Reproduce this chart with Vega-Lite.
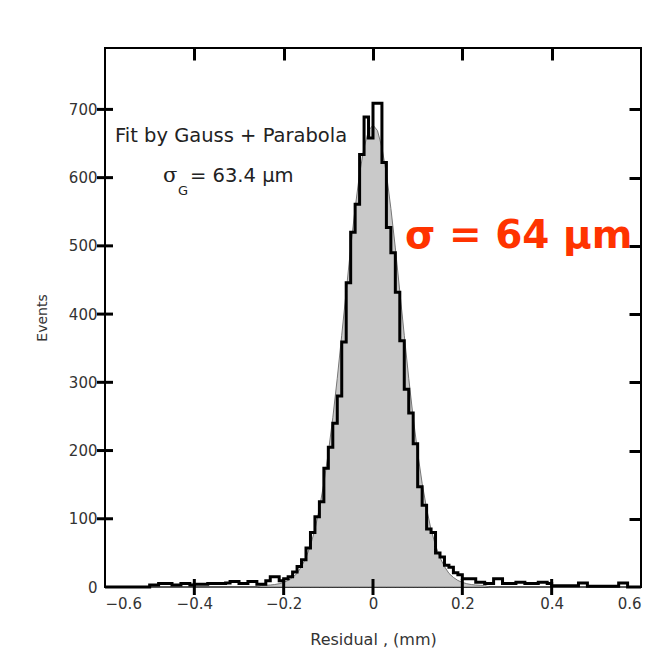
{
  "$schema": "https://vega.github.io/schema/vega-lite/v6.json",
  "autosize": "none",
  "width": 536,
  "height": 539,
  "padding": {"left": 105, "top": 48, "right": 5, "bottom": 67},
  "background": "#ffffff",
  "config": {
    "view": {"stroke": "#000000", "strokeWidth": 2},
    "font": "DejaVu Sans"
  },
  "datasets": {
    "hist": [
      {"x": -0.60, "n": 0}, {"x": -0.59, "n": 0}, {"x": -0.58, "n": 0}, {"x": -0.57, "n": 0}, {"x": -0.56, "n": 0},
      {"x": -0.55, "n": 0}, {"x": -0.54, "n": 0}, {"x": -0.53, "n": 0}, {"x": -0.52, "n": 0}, {"x": -0.51, "n": 0},
      {"x": -0.50, "n": 3}, {"x": -0.49, "n": 3}, {"x": -0.48, "n": 5}, {"x": -0.47, "n": 5}, {"x": -0.46, "n": 5},
      {"x": -0.45, "n": 3}, {"x": -0.44, "n": 3}, {"x": -0.43, "n": 5}, {"x": -0.42, "n": 5}, {"x": -0.41, "n": 3},
      {"x": -0.40, "n": 4}, {"x": -0.39, "n": 4}, {"x": -0.38, "n": 4}, {"x": -0.37, "n": 5}, {"x": -0.36, "n": 5},
      {"x": -0.35, "n": 5}, {"x": -0.34, "n": 5}, {"x": -0.33, "n": 6}, {"x": -0.32, "n": 8}, {"x": -0.31, "n": 8},
      {"x": -0.30, "n": 5}, {"x": -0.29, "n": 5}, {"x": -0.28, "n": 8}, {"x": -0.27, "n": 8}, {"x": -0.26, "n": 4},
      {"x": -0.25, "n": 4}, {"x": -0.24, "n": 9}, {"x": -0.23, "n": 15}, {"x": -0.22, "n": 15}, {"x": -0.21, "n": 9},
      {"x": -0.20, "n": 12}, {"x": -0.19, "n": 15}, {"x": -0.18, "n": 22}, {"x": -0.17, "n": 30}, {"x": -0.16, "n": 40},
      {"x": -0.15, "n": 57}, {"x": -0.14, "n": 80}, {"x": -0.13, "n": 103}, {"x": -0.12, "n": 125}, {"x": -0.11, "n": 174},
      {"x": -0.10, "n": 205}, {"x": -0.09, "n": 240}, {"x": -0.08, "n": 280}, {"x": -0.07, "n": 359}, {"x": -0.06, "n": 446},
      {"x": -0.05, "n": 520}, {"x": -0.04, "n": 561}, {"x": -0.03, "n": 634}, {"x": -0.02, "n": 689}, {"x": -0.01, "n": 658},
      {"x": 0.00, "n": 709}, {"x": 0.01, "n": 709}, {"x": 0.02, "n": 622}, {"x": 0.03, "n": 527}, {"x": 0.04, "n": 490},
      {"x": 0.05, "n": 432}, {"x": 0.06, "n": 361}, {"x": 0.07, "n": 290}, {"x": 0.08, "n": 255}, {"x": 0.09, "n": 210},
      {"x": 0.10, "n": 147}, {"x": 0.11, "n": 120}, {"x": 0.12, "n": 85}, {"x": 0.13, "n": 80}, {"x": 0.14, "n": 50},
      {"x": 0.15, "n": 44}, {"x": 0.16, "n": 32}, {"x": 0.17, "n": 29}, {"x": 0.18, "n": 21}, {"x": 0.19, "n": 18},
      {"x": 0.20, "n": 12}, {"x": 0.21, "n": 12}, {"x": 0.22, "n": 12}, {"x": 0.23, "n": 7}, {"x": 0.24, "n": 7},
      {"x": 0.25, "n": 5}, {"x": 0.26, "n": 5}, {"x": 0.27, "n": 12}, {"x": 0.28, "n": 12}, {"x": 0.29, "n": 5},
      {"x": 0.30, "n": 5}, {"x": 0.31, "n": 5}, {"x": 0.32, "n": 7}, {"x": 0.33, "n": 7}, {"x": 0.34, "n": 5},
      {"x": 0.35, "n": 5}, {"x": 0.36, "n": 5}, {"x": 0.37, "n": 7}, {"x": 0.38, "n": 7}, {"x": 0.39, "n": 5},
      {"x": 0.40, "n": 2}, {"x": 0.41, "n": 2}, {"x": 0.42, "n": 2}, {"x": 0.43, "n": 2}, {"x": 0.44, "n": 2},
      {"x": 0.45, "n": 2}, {"x": 0.46, "n": 6}, {"x": 0.47, "n": 6}, {"x": 0.48, "n": 1}, {"x": 0.49, "n": 1},
      {"x": 0.50, "n": 1}, {"x": 0.51, "n": 1}, {"x": 0.52, "n": 1}, {"x": 0.53, "n": 1}, {"x": 0.54, "n": 1},
      {"x": 0.55, "n": 6}, {"x": 0.56, "n": 6}, {"x": 0.57, "n": 0}, {"x": 0.58, "n": 0}, {"x": 0.59, "n": 0},
      {"x": 0.60, "n": 0}
    ],
    "fit": [
      {"x": -0.60, "f": 0}, {"x": -0.26, "f": 0}, {"x": -0.25, "f": 2.3}, {"x": -0.24, "f": 2.5}, {"x": -0.23, "f": 2.9}, {"x": -0.22, "f": 3.6},
      {"x": -0.21, "f": 4.8}, {"x": -0.20, "f": 6.7}, {"x": -0.19, "f": 9.6}, {"x": -0.18, "f": 14},
      {"x": -0.17, "f": 20}, {"x": -0.16, "f": 30}, {"x": -0.15, "f": 43}, {"x": -0.14, "f": 61},
      {"x": -0.13, "f": 84}, {"x": -0.12, "f": 115}, {"x": -0.11, "f": 152}, {"x": -0.10, "f": 197},
      {"x": -0.09, "f": 248}, {"x": -0.08, "f": 306}, {"x": -0.07, "f": 369}, {"x": -0.06, "f": 433},
      {"x": -0.05, "f": 497}, {"x": -0.04, "f": 555}, {"x": -0.03, "f": 606}, {"x": -0.02, "f": 644},
      {"x": -0.01, "f": 669}, {"x": 0.00, "f": 677}, {"x": 0.01, "f": 669}, {"x": 0.02, "f": 644},
      {"x": 0.03, "f": 606}, {"x": 0.04, "f": 555}, {"x": 0.05, "f": 497}, {"x": 0.06, "f": 433},
      {"x": 0.07, "f": 369}, {"x": 0.08, "f": 306}, {"x": 0.09, "f": 248}, {"x": 0.10, "f": 197},
      {"x": 0.11, "f": 152}, {"x": 0.12, "f": 115}, {"x": 0.13, "f": 84}, {"x": 0.14, "f": 61},
      {"x": 0.15, "f": 43}, {"x": 0.16, "f": 30}, {"x": 0.17, "f": 20}, {"x": 0.18, "f": 14},
      {"x": 0.19, "f": 9.6}, {"x": 0.20, "f": 6.7}, {"x": 0.21, "f": 4.8}, {"x": 0.22, "f": 3.6},
      {"x": 0.23, "f": 2.9}, {"x": 0.24, "f": 2.5}, {"x": 0.25, "f": 2.3}, {"x": 0.26, "f": 0}, {"x": 0.60, "f": 0}
    ],
    "yticks": [
      {"x": -0.6, "y": 100}, {"x": -0.6, "y": 200}, {"x": -0.6, "y": 300}, {"x": -0.6, "y": 400},
      {"x": -0.6, "y": 500}, {"x": -0.6, "y": 600}, {"x": -0.6, "y": 700}
    ],
    "xticks": [
      {"x": -0.4, "y": 0}, {"x": -0.2, "y": 0}, {"x": 0, "y": 0}, {"x": 0.2, "y": 0}, {"x": 0.4, "y": 0}
    ],
    "notes": [
      {"x": -0.5776, "y": 652, "label": "Fit by Gauss + Parabola", "kind": "fit"},
      {"x": -0.470, "y": 594, "label": "σ", "kind": "sigma"},
      {"x": -0.4365, "y": 574, "label": "G", "kind": "sub"},
      {"x": -0.4097, "y": 594, "label": "= 63.4 μm", "kind": "val"},
      {"x": 0.0716, "y": 497, "label": "σ = 64 μm", "kind": "red"}
    ]
  },
  "resolve": {"axis": {"x": "independent", "y": "independent"}},
  "layer": [
    {
      "data": {"name": "fit"},
      "mark": {"type": "area", "fill": "#c9c9c9", "stroke": "#777777", "strokeWidth": 1},
      "encoding": {
        "x": {"field": "x", "type": "quantitative",
          "scale": {"domain": [-0.6, 0.6], "nice": false, "zero": false}, "axis": null},
        "y": {"field": "f", "type": "quantitative",
          "scale": {"domain": [0, 790], "nice": false}, "axis": null}
      }
    },
    {
      "data": {"name": "hist"},
      "mark": {"type": "line", "interpolate": "step-after", "stroke": "#000000", "strokeWidth": 3, "strokeJoin": "miter"},
      "encoding": {
        "x": {"field": "x", "type": "quantitative",
          "axis": {"orient": "top", "values": [-0.4, -0.2, 0, 0.2, 0.4], "labels": false, "domain": false, "zindex": 2,
            "grid": false, "tickColor": "#000000", "tickWidth": 3, "tickSize": -12, "title": null}},
        "y": {"field": "n", "type": "quantitative",
          "axis": {"orient": "right", "values": [100, 200, 300, 400, 500, 600, 700], "labels": false, "domain": false, "zindex": 2,
            "grid": false, "tickColor": "#000000", "tickWidth": 3, "tickSize": -12, "title": null}}
      }
    },
    {
      "data": {"name": "yticks"},
      "mark": {"type": "tick", "orient": "horizontal", "size": 16, "thickness": 3, "color": "#000000", "opacity": 1},
      "encoding": {
        "x": {"field": "x", "type": "quantitative", "axis": null},
        "y": {"field": "y", "type": "quantitative", "axis": null}
      }
    },
    {
      "data": {"name": "xticks"},
      "mark": {"type": "tick", "orient": "vertical", "size": 16, "thickness": 3, "color": "#000000", "opacity": 1},
      "encoding": {
        "x": {"field": "x", "type": "quantitative", "axis": null},
        "y": {"field": "y", "type": "quantitative", "axis": null}
      }
    },
    {
      "data": {"name": "notes"},
      "transform": [{"filter": "datum.kind == 'fit' || datum.kind == 'val'"}],
      "mark": {"type": "text", "align": "left", "baseline": "alphabetic", "font": "DejaVu Sans", "fontSize": 19.5, "color": "#222222"},
      "encoding": {
        "x": {"field": "x", "type": "quantitative", "axis": null},
        "y": {"field": "y", "type": "quantitative", "axis": null},
        "text": {"field": "label"}
      }
    },
    {
      "data": {"name": "notes"},
      "transform": [{"filter": "datum.kind == 'sigma'"}],
      "mark": {"type": "text", "align": "left", "baseline": "alphabetic", "font": "DejaVu Serif", "fontSize": 21, "color": "#222222"},
      "encoding": {
        "x": {"field": "x", "type": "quantitative", "axis": null},
        "y": {"field": "y", "type": "quantitative", "axis": null},
        "text": {"field": "label"}
      }
    },
    {
      "data": {"name": "notes"},
      "transform": [{"filter": "datum.kind == 'sub'"}],
      "mark": {"type": "text", "align": "left", "baseline": "alphabetic", "font": "DejaVu Sans", "fontSize": 13, "color": "#222222"},
      "encoding": {
        "x": {"field": "x", "type": "quantitative", "axis": null},
        "y": {"field": "y", "type": "quantitative", "axis": null},
        "text": {"field": "label"}
      }
    },
    {
      "data": {"name": "notes"},
      "transform": [{"filter": "datum.kind == 'red'"}],
      "mark": {"type": "text", "align": "left", "baseline": "alphabetic", "font": "DejaVu Sans", "fontWeight": "bold", "fontSize": 39, "color": "#ff3300"},
      "encoding": {
        "x": {"field": "x", "type": "quantitative",
          "axis": {"orient": "bottom", "values": [-0.6, -0.4, -0.2, 0, 0.2, 0.4, 0.6],
            "labelExpr": "datum.value == 0 ? '0' : format(datum.value, '.1f')",
            "domain": false, "grid": false, "ticks": false,
            "labelPadding": 9, "labelFont": "DejaVu Sans", "labelFontSize": 15, "labelColor": "#333333",
            "title": "Residual , (mm)", "titleFont": "DejaVu Sans", "titleFontSize": 16, "titleFontWeight": "normal",
            "titleColor": "#333333", "titlePadding": 20}},
        "y": {"field": "y", "type": "quantitative",
          "axis": {"orient": "left", "values": [0, 100, 200, 300, 400, 500, 600, 700],
            "domain": false, "grid": false, "ticks": false,
            "labelPadding": 8, "labelFont": "DejaVu Sans", "labelFontSize": 15, "labelColor": "#333333",
            "title": "Events", "titleFont": "DejaVu Sans", "titleFontSize": 14, "titleFontWeight": "normal",
            "titleColor": "#333333", "titlePadding": 19}},
        "text": {"field": "label"}
      }
    }
  ]
}
